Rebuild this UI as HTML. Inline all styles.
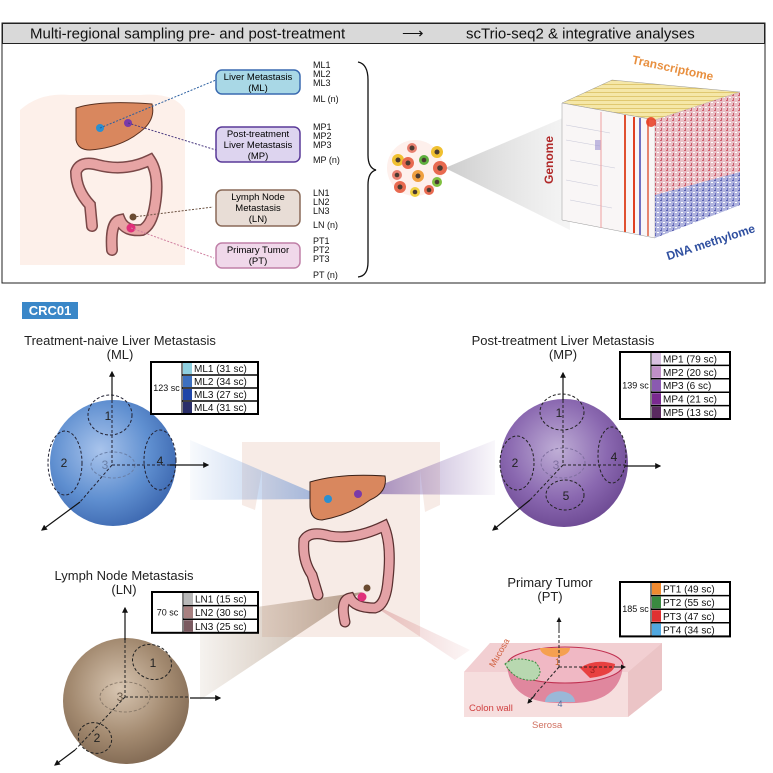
<!DOCTYPE html>
<html><head><meta charset="utf-8"><style>
html,body{margin:0;padding:0;background:#fff}
svg{display:block}
text{font-family:"Liberation Sans Narrow","Liberation Sans",sans-serif}
</style></head><body>
<svg id="fig" width="773" height="773" viewBox="0 0 773 773" xmlns="http://www.w3.org/2000/svg">
<defs>
<radialGradient id="gML" cx="0.4" cy="0.4" r="0.65"><stop offset="0" stop-color="#a9c4ec"/><stop offset="0.6" stop-color="#5f8fd0"/><stop offset="1" stop-color="#3d68b0"/></radialGradient>
<radialGradient id="gMP" cx="0.45" cy="0.4" r="0.65"><stop offset="0" stop-color="#bfaed6"/><stop offset="0.6" stop-color="#8a68b0"/><stop offset="1" stop-color="#6a4690"/></radialGradient>
<radialGradient id="gLN" cx="0.45" cy="0.4" r="0.65"><stop offset="0" stop-color="#d8c6b2"/><stop offset="0.6" stop-color="#a38a70"/><stop offset="1" stop-color="#7e6650"/></radialGradient>
<linearGradient id="cBlue" x1="0" x2="1"><stop offset="0" stop-color="#6e9ad8" stop-opacity="0.05"/><stop offset="1" stop-color="#5c88d0" stop-opacity="0.6"/></linearGradient>
<linearGradient id="cPur" x1="1" x2="0"><stop offset="0" stop-color="#8a6ab0" stop-opacity="0.05"/><stop offset="1" stop-color="#7050a0" stop-opacity="0.7"/></linearGradient>
<linearGradient id="cBrn" x1="0" x2="1"><stop offset="0" stop-color="#a08060" stop-opacity="0.1"/><stop offset="1" stop-color="#8a6a50" stop-opacity="0.6"/></linearGradient>
<linearGradient id="cPnk" x1="1" x2="0"><stop offset="0" stop-color="#e0a0a0" stop-opacity="0.1"/><stop offset="1" stop-color="#d08080" stop-opacity="0.5"/></linearGradient>
<linearGradient id="cGray" x1="0" x2="1"><stop offset="0" stop-color="#999" stop-opacity="0.5"/><stop offset="1" stop-color="#ccc" stop-opacity="0.2"/></linearGradient>
<pattern id="pRight" width="6" height="5" patternUnits="userSpaceOnUse"><rect width="6" height="5" fill="#e9c0c6"/><rect x="0" y="0" width="2" height="1" fill="#d06070"/><rect x="3" y="2" width="2" height="1" fill="#fff"/><rect x="1" y="3" width="1" height="2" fill="#c85a6a"/></pattern>
<pattern id="pRightB" width="6" height="5" patternUnits="userSpaceOnUse"><rect width="6" height="5" fill="#b0b4de"/><rect x="0" y="0" width="2" height="1" fill="#5a60b0"/><rect x="3" y="2" width="2" height="1" fill="#fff"/><rect x="1" y="3" width="1" height="2" fill="#6a70c0"/></pattern>
<pattern id="pTop" width="5" height="4" patternUnits="userSpaceOnUse"><rect width="5" height="4" fill="#f5e7a8"/><rect x="0" y="0" width="5" height="1" fill="#e0c870"/></pattern>
<marker id="ar" viewBox="0 0 10 10" refX="8" refY="5" markerWidth="5" markerHeight="5" orient="auto"><path d="M0,0L10,5L0,10z" fill="#111"/></marker>
</defs>

<g>
<rect x="2" y="23" width="763" height="260" fill="#fff" stroke="#222" stroke-width="1"/>
<rect x="2.5" y="23.5" width="762" height="20" fill="#d9d9d9" stroke="#222" stroke-width="1"/>
<text x="30" y="38.5" font-size="15" fill="#111">Multi-regional sampling pre- and post-treatment</text>
<text x="402" y="38" font-size="15" fill="#111">⟶</text>
<text x="466" y="38.5" font-size="15" fill="#111">scTrio-seq2 &amp; integrative analyses</text>

<path d="M20,110 Q40,92 70,95 L140,95 Q175,92 185,110 L185,265 L20,265 Z" fill="#fdf0ea"/>
<path d="M76,108 Q100,100 152,104 Q156,120 140,132 Q120,148 90,150 Q78,150 76,140 Z" fill="#d9875e" stroke="#5a3020" stroke-width="1"/>
<path d="M92,226 L90,205 Q76,190 76,172 Q80,160 98,165 Q125,172 150,160 Q160,175 155,205 Q152,225 142,230 Q125,232 120,220 Q110,222 112,250" fill="none" stroke="#7a4848" stroke-width="12" stroke-linecap="round"/>
<path d="M92,226 L90,205 Q76,190 76,172 Q80,160 98,165 Q125,172 150,160 Q160,175 155,205 Q152,225 142,230 Q125,232 120,220 Q110,222 112,250" fill="none" stroke="#e7a4a4" stroke-width="9" stroke-linecap="round"/>
<circle cx="100" cy="128" r="4" fill="#2b8fd0"/>
<circle cx="128" cy="123" r="4" fill="#7a3aa8"/>
<circle cx="133" cy="217" r="3.5" fill="#6a4a30"/>
<circle cx="131" cy="228" r="4.5" fill="#e0307a"/>
<line x1="100" y1="128" x2="216" y2="80" stroke="#2b5fa0" stroke-dasharray="2,1.5"/>
<line x1="128" y1="123" x2="216" y2="150" stroke="#4a3a80" stroke-dasharray="2,1.5"/>
<line x1="133" y1="217" x2="213" y2="207" stroke="#6a5040" stroke-dasharray="2,1.5"/>
<line x1="131" y1="228" x2="214" y2="258" stroke="#d080a0" stroke-dasharray="2,1.5"/>

<rect x="216" y="70" width="84" height="24" rx="6" fill="#a9d8e6" stroke="#3a6ab0" stroke-width="1.5"/>
<text x="258" y="80" font-size="9.5" text-anchor="middle">Liver Metastasis</text><text x="258" y="91" font-size="9.5" text-anchor="middle">(ML)</text>
<rect x="216" y="127" width="84" height="35" rx="6" fill="#ddd4ef" stroke="#5a3a98" stroke-width="1.5"/>
<text x="258" y="137" font-size="9.5" text-anchor="middle">Post-treatment</text><text x="258" y="148" font-size="9.5" text-anchor="middle">Liver Metastasis</text><text x="258" y="159" font-size="9.5" text-anchor="middle">(MP)</text>
<rect x="216" y="190" width="84" height="36" rx="6" fill="#e8ddd6" stroke="#8a6a58" stroke-width="1.5"/>
<text x="258" y="200" font-size="9.5" text-anchor="middle">Lymph Node</text><text x="258" y="211" font-size="9.5" text-anchor="middle">Metastasis</text><text x="258" y="222" font-size="9.5" text-anchor="middle">(LN)</text>
<rect x="216" y="243" width="84" height="25" rx="6" fill="#f0d8ea" stroke="#c080a8" stroke-width="1.5"/>
<text x="258" y="253" font-size="9.5" text-anchor="middle">Primary Tumor</text><text x="258" y="264" font-size="9.5" text-anchor="middle">(PT)</text>

<g font-size="9" fill="#111">
<text x="313" y="68">ML1</text><text x="313" y="77">ML2</text><text x="313" y="86">ML3</text><text x="313" y="102">ML (n)</text>
<text x="313" y="130">MP1</text><text x="313" y="139">MP2</text><text x="313" y="148">MP3</text><text x="313" y="163">MP (n)</text>
<text x="313" y="196">LN1</text><text x="313" y="205">LN2</text><text x="313" y="214">LN3</text><text x="313" y="228">LN (n)</text>
<text x="313" y="244">PT1</text><text x="313" y="253">PT2</text><text x="313" y="262">PT3</text><text x="313" y="278">PT (n)</text>
</g>
<path d="M358,62 Q368,64 368,80 L368,155 Q368,168 376,170 Q368,172 368,185 L368,262 Q368,276 358,277" fill="none" stroke="#111" stroke-width="1.3"/>

<polygon points="445,168 570,115 570,230" fill="url(#cGray)"/>
<g>
<circle cx="415" cy="168" r="28" fill="#fde6e0" opacity="0.6"/>
<circle cx="398" cy="160" r="6" fill="#f0c030"/><circle cx="398" cy="160" r="2.5" fill="#4a3a30"/>
<circle cx="412" cy="148" r="5" fill="#e88070"/><circle cx="412" cy="148" r="2.5" fill="#4a3a30"/>
<circle cx="437" cy="152" r="6" fill="#f0c030"/><circle cx="437" cy="152" r="2.5" fill="#4a3a30"/>
<circle cx="408" cy="163" r="6" fill="#e86a50"/><circle cx="408" cy="163" r="2.5" fill="#4a3a30"/>
<circle cx="424" cy="160" r="5" fill="#60b040"/><circle cx="424" cy="160" r="2.3" fill="#4a3a30"/>
<circle cx="440" cy="168" r="7" fill="#e86a50"/><circle cx="440" cy="168" r="2.8" fill="#4a3a30"/>
<circle cx="397" cy="175" r="5" fill="#e88070"/><circle cx="397" cy="175" r="2.3" fill="#4a3a30"/>
<circle cx="418" cy="176" r="6" fill="#f0a040"/><circle cx="418" cy="176" r="2.5" fill="#4a3a30"/>
<circle cx="437" cy="182" r="5" fill="#80c040"/><circle cx="437" cy="182" r="2.3" fill="#4a3a30"/>
<circle cx="400" cy="187" r="6" fill="#e86a50"/><circle cx="400" cy="187" r="2.5" fill="#4a3a30"/>
<circle cx="415" cy="192" r="5" fill="#f0d040"/><circle cx="415" cy="192" r="2.3" fill="#4a3a30"/>
<circle cx="429" cy="190" r="5" fill="#e86a50"/><circle cx="429" cy="190" r="2.3" fill="#4a3a30"/>
</g>

<g>
<polygon points="562,103 612,80 740,92 655,120" fill="url(#pTop)" stroke="#999" stroke-width="0.5"/>
<polygon points="562,103 655,120 655,238 562,220" fill="#f9f6f6" stroke="#999" stroke-width="0.5"/>
<polygon points="655,120 740,92 740,172 655,195" fill="url(#pRight)"/>
<polygon points="655,195 740,172 740,205 655,238" fill="url(#pRightB)"/>
<g stroke="#c8c8d8" stroke-width="0.6">
<line x1="566" y1="125" x2="610" y2="133"/><line x1="566" y1="140" x2="600" y2="146"/><line x1="570" y1="160" x2="615" y2="168"/><line x1="566" y1="180" x2="598" y2="186"/><line x1="570" y1="200" x2="612" y2="208"/>
</g>
<rect x="595" y="140" width="6" height="10" fill="#9a90d0" opacity="0.6"/>
<line x1="625" y1="115" x2="625" y2="232" stroke="#e05030" stroke-width="2"/>
<line x1="634" y1="117" x2="634" y2="233" stroke="#e04020" stroke-width="2"/>
<line x1="640" y1="118" x2="640" y2="235" stroke="#7070c0" stroke-width="2"/>
<line x1="648" y1="119" x2="648" y2="236" stroke="#e06040" stroke-width="1.5"/>
<line x1="601" y1="112" x2="601" y2="228" stroke="#f0a0a0" stroke-width="1"/>
<circle cx="651" cy="122" r="5" fill="#e83a20" opacity="0.85"/>
</g>
<text transform="translate(672,72) rotate(12)" font-size="12" font-weight="bold" fill="#e89040" text-anchor="middle">Transcriptome</text>
<text transform="translate(553,160) rotate(-90)" font-size="12" font-weight="bold" fill="#b02828" text-anchor="middle">Genome</text>
<text transform="translate(712,246) rotate(-18)" font-size="12" font-weight="bold" fill="#3050a0" text-anchor="middle">DNA methylome</text>
</g>

<rect x="22" y="302" width="56" height="17" fill="#3a87c8"/>
<text x="50" y="315" font-size="13" font-weight="bold" fill="#fff" text-anchor="middle">CRC01</text>

<g>
<path d="M242,442 L440,442 L440,505 L425,512 L420,470 L420,637 L262,637 L262,470 L255,510 L242,505 Z" fill="#f7ebe6"/>
</g>
<polygon points="190,440 190,500 328,499" fill="url(#cBlue)"/>
<polygon points="495,440 495,495 358,494" fill="url(#cPur)"/>
<polygon points="200,615 200,700 362,592" fill="url(#cBrn)"/>
<polygon points="365,600 375,605 470,650 455,660" fill="url(#cPnk)"/>
<path d="M310,482 Q340,473 385,476 Q388,492 370,500 Q350,515 322,520 Q310,520 310,505 Z" fill="#d9875e" stroke="#3a2018" stroke-width="1"/>
<path d="M318,595 L312,575 Q302,560 304,540 Q310,530 330,536 Q355,540 384,526 Q392,545 388,580 Q386,605 375,608 Q355,608 350,598 Q340,600 345,622" fill="none" stroke="#5a3030" stroke-width="11" stroke-linecap="round"/>
<path d="M318,595 L312,575 Q302,560 304,540 Q310,530 330,536 Q355,540 384,526 Q392,545 388,580 Q386,605 375,608 Q355,608 350,598 Q340,600 345,622" fill="none" stroke="#e4a2a6" stroke-width="8.5" stroke-linecap="round"/>
<circle cx="328" cy="499" r="4" fill="#2b8fd0"/>
<circle cx="358" cy="494" r="4" fill="#7a3aa8"/>
<circle cx="367" cy="588" r="3.5" fill="#6a4a30"/>
<circle cx="362" cy="597" r="4.5" fill="#e0307a"/>

<g font-size="13" fill="#222" text-anchor="middle">
<text x="120" y="345">Treatment-naive Liver Metastasis</text><text x="120" y="359">(ML)</text>
<text x="563" y="345">Post-treatment Liver Metastasis</text><text x="563" y="359">(MP)</text>
<text x="124" y="580">Lymph Node Metastasis</text><text x="124" y="594">(LN)</text>
<text x="550" y="587">Primary Tumor</text><text x="550" y="601">(PT)</text>
</g>

<g>
<circle cx="113" cy="463" r="63" fill="url(#gML)"/>
<g fill="none" stroke="#223" stroke-dasharray="3,2" stroke-width="1">
<ellipse cx="110" cy="415" rx="22" ry="20"/><ellipse cx="65" cy="463" rx="17" ry="32"/><ellipse cx="113" cy="465" rx="22" ry="13" stroke="#6a80a8"/><ellipse cx="160" cy="460" rx="16" ry="30"/>
<line x1="112" y1="400" x2="112" y2="465"/><line x1="112" y1="465" x2="170" y2="465"/><line x1="112" y1="465" x2="80" y2="502"/>
</g>
<g stroke="#111" stroke-width="1.2" marker-end="url(#ar)"><line x1="112" y1="400" x2="112" y2="372"/><line x1="170" y1="465" x2="208" y2="465"/><line x1="80" y1="502" x2="42" y2="530"/></g>
<g font-size="12" fill="#222" text-anchor="middle"><text x="108" y="420">1</text><text x="64" y="467">2</text><text x="105" y="469" fill="#6a80a8">3</text><text x="160" y="465">4</text></g>
</g>
<g>
<circle cx="564" cy="463" r="64" fill="url(#gMP)"/>
<g fill="none" stroke="#222" stroke-dasharray="3,2" stroke-width="1">
<ellipse cx="562" cy="412" rx="22" ry="18"/><ellipse cx="517" cy="463" rx="17" ry="27"/><ellipse cx="563" cy="463" rx="22" ry="15" stroke="#8070a0"/><ellipse cx="612" cy="455" rx="14" ry="28"/><ellipse cx="565" cy="495" rx="19" ry="15"/>
<line x1="563" y1="400" x2="563" y2="465"/><line x1="563" y1="465" x2="625" y2="465"/><line x1="563" y1="465" x2="530" y2="500"/>
</g>
<g stroke="#111" stroke-width="1.2" marker-end="url(#ar)"><line x1="563" y1="400" x2="563" y2="373"/><line x1="625" y1="466" x2="660" y2="466"/><line x1="530" y1="500" x2="493" y2="530"/></g>
<g font-size="12" fill="#222" text-anchor="middle"><text x="559" y="417">1</text><text x="515" y="467">2</text><text x="556" y="469" fill="#8070a0">3</text><text x="614" y="461">4</text><text x="566" y="500">5</text></g>
</g>
<g>
<circle cx="126" cy="701" r="63" fill="url(#gLN)"/>
<g fill="none" stroke="#222" stroke-dasharray="3,2" stroke-width="1">
<ellipse cx="152" cy="662" rx="20" ry="17" transform="rotate(25 152 662)"/><ellipse cx="95" cy="738" rx="17" ry="15" transform="rotate(25 95 738)"/><ellipse cx="125" cy="697" rx="25" ry="15" stroke="#8a7a6a"/>
<line x1="125" y1="640" x2="125" y2="697"/><line x1="125" y1="697" x2="190" y2="697"/><line x1="125" y1="697" x2="75" y2="750"/>
</g>
<g stroke="#111" stroke-width="1.2" marker-end="url(#ar)"><line x1="125" y1="640" x2="125" y2="608"/><line x1="190" y1="698" x2="220" y2="698"/><line x1="75" y1="750" x2="55" y2="765"/></g>
<g font-size="12" fill="#222" text-anchor="middle"><text x="153" y="667">1</text><text x="97" y="742">2</text><text x="120" y="701" fill="#6a5a4a">3</text></g>
</g>

<g>
<polygon points="464,672 490,643 662,643 662,690 628,717 464,717" fill="#f6dede"/>
<polygon points="464,672 628,672 662,643 490,643" fill="#f2cfd2"/>
<polygon points="628,672 662,643 662,690 628,717" fill="#ebc4c6"/>
<path d="M507,665 A58,18 0 0 1 623,665 Q620,705 565,703 Q510,705 507,665 Z" fill="#d86a88" opacity="0.75"/>
<ellipse cx="565" cy="665" rx="58" ry="18" fill="#f0b8c4" stroke="#c03050" stroke-width="1"/>
<path d="M540,648 A15,9 0 0 0 570,648 Z" fill="#f5a050"/>
<path d="M505,664 Q515,655 535,662 Q545,672 535,680 Q515,682 505,664 Z" fill="#b8d8b0" stroke="#3a8a40" stroke-dasharray="2,1.5"/>
<path d="M580,668 Q595,658 615,664 Q615,675 590,678 Z" fill="#e84040"/>
<path d="M545,702 A14,10 0 0 1 575,702 Z" fill="#9ab8d8"/>
<g stroke="#222" stroke-dasharray="3,2" fill="none"><line x1="559" y1="620" x2="559" y2="667"/><line x1="559" y1="667" x2="620" y2="667"/><line x1="559" y1="667" x2="530" y2="700"/></g>
<g stroke="#222" marker-end="url(#ar)"><line x1="559" y1="630" x2="559" y2="618"/><line x1="615" y1="667" x2="625" y2="667"/><line x1="535" y1="695" x2="528" y2="703"/></g>
<text x="590" y="673" font-size="9" fill="#a02020">3</text>
<text x="555" y="665" font-size="9" fill="#c06020">1</text>
<text x="560" y="707" font-size="9" fill="#5070a0" text-anchor="middle">4</text>
<text transform="translate(494,668) rotate(-60)" font-size="9" fill="#d06040">Mucosa</text>
<text x="469" y="711" font-size="9.5" fill="#d04040">Colon wall</text>
<text x="532" y="728" font-size="9.5" fill="#d07060">Serosa</text>
</g>

<g id="legends"></g>
</svg>
<script>
const mlLabels=["ML1 (31 sc)","ML2 (34 sc)","ML3 (27 sc)","ML4 (31 sc)"];
const mlColors=["#8fd0e0","#3d70c0","#1f45a8","#2a2f6a"];
const mlTotal="123 sc";
const mpLabels=["MP1 (79 sc)","MP2 (20 sc)","MP3 (6 sc)","MP4 (21 sc)","MP5 (13 sc)"];
const mpColors=["#d8c0e0","#c090c8","#8a5ab0","#7a2a90","#5a2a60"];
const mpTotal="139 sc";
const lnLabels=["LN1 (15 sc)","LN2 (30 sc)","LN3 (25 sc)"];
const lnColors=["#b8b8b8","#a88080","#7a5a60"];
const lnTotal="70 sc";
const ptLabels=["PT1 (49 sc)","PT2 (55 sc)","PT3 (47 sc)","PT4 (34 sc)"];
const ptColors=["#f08a30","#3a8a40","#e03030","#50a8e0"];
const ptTotal="185 sc";
const NS="http://www.w3.org/2000/svg";
const root=document.getElementById("legends");
function mk(tag,a){const e=document.createElementNS(NS,tag);for(const k in a)e.setAttribute(k,a[k]);return e;}
function legend(name,x,y,w,rowH,total,labels,colors){
  const g=mk("g",{});
  
  
  const h=rowH*labels.length;
  g.appendChild(mk("rect",{x:x,y:y,width:w,height:h,fill:"#fff",stroke:"#000","stroke-width":2}));
  const lw=31;
  g.appendChild(mk("line",{x1:x+lw,y1:y,x2:x+lw,y2:y+h,stroke:"#000","stroke-width":1}));
  const t=mk("text",{x:x+lw/2,y:y+h/2+3,"font-size":9,"text-anchor":"middle",fill:"#111"});t.textContent=total;g.appendChild(t);
  labels.forEach((lab,i)=>{
    const ry=y+i*rowH;
    if(i>0)g.appendChild(mk("line",{x1:x+lw,y1:ry,x2:x+w,y2:ry,stroke:"#000","stroke-width":1.5}));
    const sw=mk("rect",{x:x+lw+1,y:ry+1,width:9,height:rowH-2,fill:colors[i]});
    
    
    g.appendChild(sw);
    const tx=mk("text",{x:x+lw+12,y:ry+rowH-3,"font-size":10,fill:"#111"});tx.textContent=lab;
    
    
    g.appendChild(tx);
  });
  root.appendChild(g);
}
legend("ml-legend",151,362,107,13,mlTotal,mlLabels,mlColors);
legend("mp-legend",620,352,110,13.4,mpTotal,mpLabels,mpColors);
legend("ln-legend",152,592,106,13.6,lnTotal,lnLabels,lnColors);
legend("pt-legend",620,582,110,13.6,ptTotal,ptLabels,ptColors);
</script>
</body></html>
